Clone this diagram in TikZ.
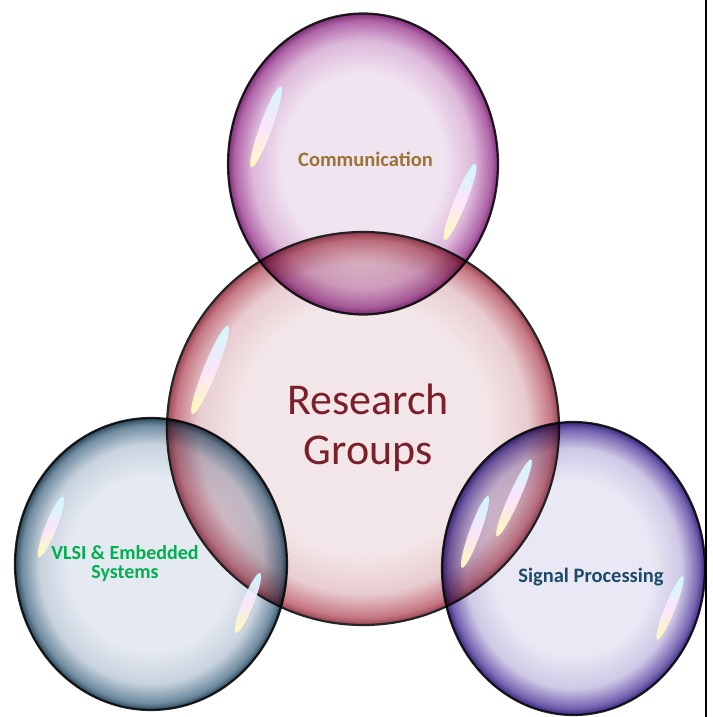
\documentclass[tikz,border=0pt]{standalone}
\usepackage{fontspec}
\setmainfont{Carlito}
\usetikzlibrary{shapes.geometric}

\definecolor{commIn}{HTML}{F1E4F1}
\definecolor{commMid}{HTML}{DDB8DA}
\definecolor{commEdge}{HTML}{B065A8}
\definecolor{commDark}{HTML}{7E3078}
\definecolor{resIn}{HTML}{F3E6E8}
\definecolor{resMid}{HTML}{E8CCD0}
\definecolor{resEdge}{HTML}{C67884}
\definecolor{resDark}{HTML}{9A4452}
\definecolor{vlsiIn}{HTML}{E5E9F1}
\definecolor{vlsiMid}{HTML}{C8D3DE}
\definecolor{vlsiEdge}{HTML}{6F8BA0}
\definecolor{vlsiDark}{HTML}{2E4858}
\definecolor{sigIn}{HTML}{EAE8F4}
\definecolor{sigMid}{HTML}{CEC8E6}
\definecolor{sigEdge}{HTML}{7563B0}
\definecolor{sigDark}{HTML}{3A2A7C}

\definecolor{resText}{HTML}{7B1F2B}
\definecolor{commText}{HTML}{9A7434}
\definecolor{vlsiText}{HTML}{00B050}
\definecolor{sigText}{HTML}{1C4A6A}

\pgfdeclareradialshading{shComm}{\pgfpointorigin}{color(0bp)=(commIn); color(15bp)=(commIn); color(20.5bp)=(commMid); color(23.8bp)=(commEdge); color(25bp)=(commDark); color(50bp)=(commDark)}
\pgfdeclareradialshading{shRes}{\pgfpointorigin}{color(0bp)=(resIn); color(16bp)=(resIn); color(21bp)=(resMid); color(24bp)=(resEdge); color(25bp)=(resDark); color(50bp)=(resDark)}
\pgfdeclareradialshading{shVlsi}{\pgfpointorigin}{color(0bp)=(vlsiIn); color(15bp)=(vlsiIn); color(20.5bp)=(vlsiMid); color(23.8bp)=(vlsiEdge); color(25bp)=(vlsiDark); color(50bp)=(vlsiDark)}
\pgfdeclareradialshading{shSig}{\pgfpointorigin}{color(0bp)=(sigIn); color(15bp)=(sigIn); color(20.5bp)=(sigMid); color(23.8bp)=(sigEdge); color(25bp)=(sigDark); color(50bp)=(sigDark)}

\tikzset{
  bubble/.style={ellipse, inner sep=0pt, draw=black!85, line width=2.2pt},
  gleam/.style={ellipse, inner sep=0pt, draw=none, fill=white, fill opacity=0.75,
                shading=axis, top color=cyan!25!white, bottom color=yellow!35!white,
                middle color=magenta!12!white},
  smalllabel/.style={font=\bfseries\fontsize{20.5}{17}\selectfont, align=center, inner sep=0pt},
  twolinelabel/.style={font=\bfseries\fontsize{20}{19}\selectfont, align=center, inner sep=0pt},
  biglabel/.style={font=\fontsize{44}{50}\selectfont, align=center, inner sep=0pt, text=resText}
}

\begin{document}
\begin{tikzpicture}[x=1pt,y=-1pt]
\useasboundingbox (0,0) rectangle (712,717);

% right border line
\coordinate (lt) at (706,0);
\coordinate (lb) at (706,717);
\draw[line width=2pt, black] (lt) -- (lb);

% central bubble
\node[bubble, shading=shRes, minimum width=392pt, minimum height=393pt] (res) at (363,428.5) {};

% outer bubbles, multiplied over the central one
\begin{scope}[blend mode=multiply]
\node[bubble, shading=shComm, minimum width=270pt, minimum height=301pt] (comm) at (363,164) {};
\node[bubble, shading=shVlsi, minimum width=272pt, minimum height=292pt] (vlsi) at (151,564) {};
\node[bubble, shading=shSig, minimum width=263pt, minimum height=293pt] (sig) at (573.5,568.5) {};
\end{scope}

% glints
\node[gleam, minimum width=12pt, minimum height=86pt, rotate=-20] (g1) at (266,127) {};
\node[gleam, minimum width=12pt, minimum height=82pt, rotate=-22] (g2) at (460,202) {};
\node[gleam, minimum width=13pt, minimum height=95pt, rotate=-22] (g3) at (210,370) {};
\node[gleam, minimum width=11pt, minimum height=65pt, rotate=-22] (g4) at (51,527) {};
\node[gleam, minimum width=11pt, minimum height=64pt, rotate=-22] (g5) at (248,603) {};
\node[gleam, minimum width=11pt, minimum height=76pt, rotate=-20] (g6) at (475,532) {};
\node[gleam, minimum width=11pt, minimum height=84pt, rotate=-24] (g7) at (514,498) {};
\node[gleam, minimum width=10pt, minimum height=68pt, rotate=-22] (g8) at (670,608) {};

% labels
\node[biglabel, anchor=center] (restext) at (368,428) {Research\\Groups};
\node[smalllabel, text=commText, anchor=base] (commtext) at (365.5,166) {Communication};
\node[twolinelabel, text=vlsiText, anchor=center] (vlsitext) at (125,564) {VLSI \& Embedded\\Systems};
\node[smalllabel, text=sigText, anchor=base] (sigtext) at (591,582) {Signal Processing};
\end{tikzpicture}
\end{document}
